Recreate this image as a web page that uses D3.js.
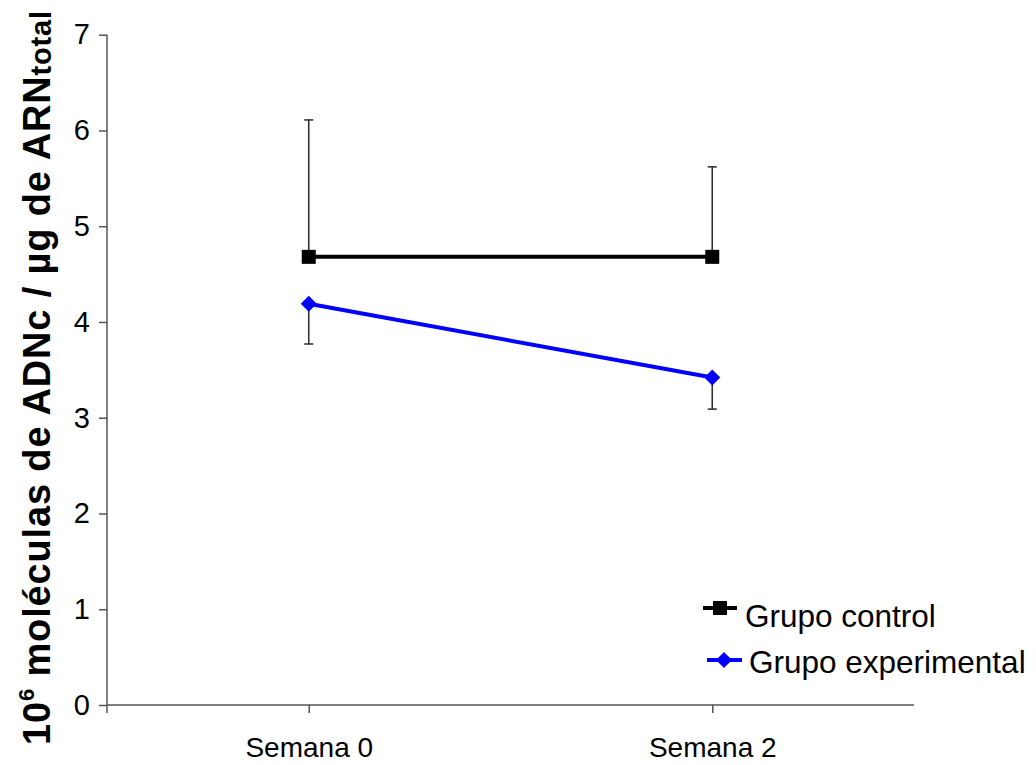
<!DOCTYPE html>
<html>
<head>
<meta charset="utf-8">
<script src="https://cdn.jsdelivr.net/npm/d3@7"></script>
<style>
  html, body { margin: 0; padding: 0; background: #fff; }
  svg { display: block; font-family: "Liberation Sans", Arial, sans-serif; }
</style>
</head>
<body>
<svg id="chart" width="1036" height="765"></svg>
<script>
// Weeks on the x axis
const categories = ["Semana 0", "Semana 2"];
// Group means (10^6 cDNA molecules per µg total RNA)
const controlValues = [4.68, 4.68];
const experimentalValues = [4.19, 3.42];
// Error bar lengths (control drawn upward, experimental downward)
const controlErrors = [1.43, 0.94];
const experimentalErrors = [0.42, 0.33];
// Y axis ticks
const yTicks = [0, 1, 2, 3, 4, 5, 6, 7];
const seriesNames = ["Grupo control", "Grupo experimental"];

const svg = d3.select("#chart");

const plot = { left: 107, right: 914, top: 34.7, bottom: 705 };

const x = d3.scalePoint()
  .domain(categories)
  .range([plot.left, plot.right])
  .padding(0.5);

const y = d3.scaleLinear()
  .domain([0, 7])
  .range([plot.bottom, plot.top]);

const axisColor = "#555";
const labelFont = "'Liberation Sans', Arial, sans-serif";

// Y axis
const yAxis = svg.append("g")
  .attr("transform", `translate(${plot.left},0)`)
  .call(d3.axisLeft(y).tickValues(yTicks).tickSize(8).tickPadding(9).tickFormat(d3.format("d")));
yAxis.select(".domain").attr("stroke", axisColor).attr("stroke-width", 1.5)
  .attr("d", `M0,${plot.top}V${plot.bottom + 8}`);
yAxis.selectAll(".tick line").attr("stroke", axisColor).attr("stroke-width", 1.5);
yAxis.selectAll(".tick text")
  .attr("font-size", 29)
  .attr("fill", "#000")
  .attr("font-family", labelFont);

// X axis
const xAxis = svg.append("g")
  .attr("transform", `translate(0,${plot.bottom})`)
  .call(d3.axisBottom(x).tickSize(8).tickPadding(24));
xAxis.select(".domain").attr("stroke", axisColor).attr("stroke-width", 1.5)
  .attr("d", `M${plot.left},0H${plot.right}`);
xAxis.selectAll(".tick line").attr("stroke", axisColor).attr("stroke-width", 1.5);
xAxis.selectAll(".tick text")
  .attr("font-size", 28)
  .attr("fill", "#000")
  .attr("font-family", labelFont);

// Error bars
function errorBars(values, errors, dir, cls) {
  const g = svg.append("g").attr("class", cls);
  categories.forEach((c, i) => {
    const cx = x(c);
    const y0 = y(values[i]);
    const y1 = y(values[i] + dir * errors[i]);
    g.append("line").attr("x1", cx).attr("x2", cx).attr("y1", y0).attr("y2", y1)
      .attr("stroke", "#333").attr("stroke-width", 1.6);
    g.append("line").attr("x1", cx - 4.5).attr("x2", cx + 4.5).attr("y1", y1).attr("y2", y1)
      .attr("stroke", "#333").attr("stroke-width", 1.6);
  });
}
errorBars(controlValues, controlErrors, 1, "err-control");
errorBars(experimentalValues, experimentalErrors, -1, "err-experimental");

const line = d3.line().x(d => x(d.c)).y(d => y(d.v));

// Control series
const controlData = categories.map((c, i) => ({ c, v: controlValues[i] }));
svg.append("path").datum(controlData)
  .attr("d", line).attr("fill", "none").attr("stroke", "#000").attr("stroke-width", 4);
svg.append("g").selectAll("rect").data(controlData).join("rect")
  .attr("x", d => x(d.c) - 7).attr("y", d => y(d.v) - 7)
  .attr("width", 14).attr("height", 14).attr("fill", "#000");

// Experimental series
const diamond = (cx, cy, r) => `M${cx},${cy - r}L${cx + r},${cy}L${cx},${cy + r}L${cx - r},${cy}Z`;
const expData = categories.map((c, i) => ({ c, v: experimentalValues[i] }));
svg.append("path").datum(expData)
  .attr("d", line).attr("fill", "none").attr("stroke", "#0000ff").attr("stroke-width", 4);
svg.append("g").selectAll("path").data(expData).join("path")
  .attr("d", d => diamond(x(d.c), y(d.v), 8)).attr("fill", "#0000ff");

// Legend
const legend = svg.append("g");
// control entry
legend.append("line").attr("x1", 703).attr("x2", 737).attr("y1", 608).attr("y2", 608)
  .attr("stroke", "#000").attr("stroke-width", 4);
legend.append("rect").attr("x", 713).attr("y", 601).attr("width", 14).attr("height", 14).attr("fill", "#000");
legend.append("text").attr("x", 745).attr("y", 627).attr("font-size", 31.5).attr("fill", "#000")
  .text(seriesNames[0]);
// experimental entry
legend.append("line").attr("x1", 707).attr("x2", 742).attr("y1", 660).attr("y2", 660)
  .attr("stroke", "#0000ff").attr("stroke-width", 4);
legend.append("path").attr("d", diamond(724, 660, 8)).attr("fill", "#0000ff");
legend.append("text").attr("x", 749).attr("y", 673).attr("font-size", 31.5).attr("fill", "#000")
  .text(seriesNames[1]);

// Y axis title, stretched to run from y=745 up to y=10
const titleStart = 745, titleEnd = 10;
const title = svg.append("text")
  .attr("transform", `translate(50,${titleStart}) rotate(-90)`)
  .attr("font-weight", "bold")
  .attr("font-size", 38)
  .attr("fill", "#000");
title.append("tspan").text("10");
title.append("tspan").attr("font-size", 22).attr("dy", -16).text("6");
title.append("tspan").attr("dy", 16).text(" moléculas de ADNc / µg de ARN");
title.append("tspan").attr("font-size", 29).attr("dy", 1).text("total");
const natural = title.node().getComputedTextLength();
const nChars = title.text().length;
const extra = (titleStart - titleEnd) - natural;
if (extra > 0) title.attr("letter-spacing", extra / nChars);
</script>
</body>
</html>
